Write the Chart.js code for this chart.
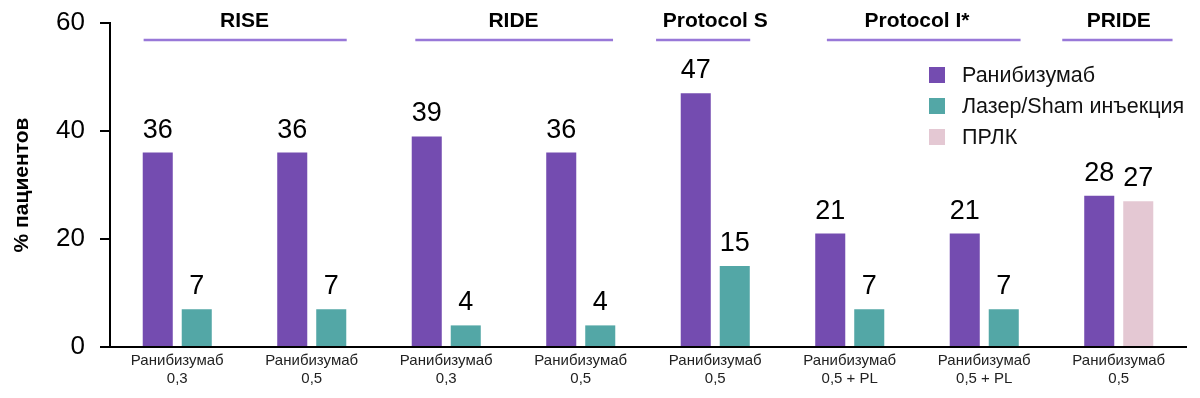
<!DOCTYPE html>
<html><head><meta charset="utf-8">
<script src="https://cdn.jsdelivr.net/npm/chart.js@4/dist/chart.umd.min.js"></script>
<style>html,body{margin:0;padding:0;background:#fff}</style>
</head><body>
<canvas id="c" width="1200" height="398"></canvas>
<script>
const categories = [['Ранибизумаб','0,3'],['Ранибизумаб','0,5'],['Ранибизумаб','0,3'],['Ранибизумаб','0,5'],['Ранибизумаб','0,5'],['Ранибизумаб','0,5 + PL'],['Ранибизумаб','0,5 + PL'],['Ранибизумаб','0,5']];
const ranibizumab = [36,36,39,36,47,21,21,28];
const laserSham = [7,7,4,4,15,7,7,null];
const prlk = [null,null,null,null,null,null,null,27];
const seriesNames = ['Ранибизумаб','Лазер/Sham инъекция','ПРЛК'];
const seriesColors = ['#744cb0','#53a7a6','#e4c8d3'];
const groupNames = ['RISE','RIDE','Protocol S','Protocol I*','PRIDE'];
const groupFirst = [0,2,4,5,7];
const groupLast = [1,3,4,6,7];
const groupLineFrom = [-0.25,1.77,3.56,4.83,6.58];
const groupLineTo = [1.26,3.24,4.26,6.27,7.40];
const yTickStep = 20;
const yMax = 60;

const FONT = '"Liberation Sans", Arial, sans-serif';

const overlay = {
  id: 'overlay',
  afterDatasetsDraw(chart) {
    const ctx = chart.ctx;
    const x = chart.scales.x;
    ctx.save();
    // value labels
    ctx.fillStyle = '#000';
    ctx.font = '27px ' + FONT;
    ctx.textAlign = 'center';
    ctx.textBaseline = 'alphabetic';
    chart.data.datasets.forEach((ds, di) => {
      const meta = chart.getDatasetMeta(di);
      meta.data.forEach((bar, i) => {
        const v = ds.data[i];
        if (v === null || v === undefined) return;
        ctx.fillText(String(v), bar.x, bar.y - 15);
      });
    });
    // group headers
    ctx.font = 'bold 21px ' + FONT;
    ctx.textBaseline = 'middle';
    groupNames.forEach((g, k) => {
      const cx = (x.getPixelForValue(groupFirst[k]) + x.getPixelForValue(groupLast[k])) / 2;
      ctx.fillStyle = '#000';
      ctx.fillText(g, cx, 21);
      ctx.strokeStyle = '#9878d8';
      ctx.lineWidth = 2.5;
      ctx.beginPath();
      ctx.moveTo(x.getPixelForValue(groupLineFrom[k]), 40);
      ctx.lineTo(x.getPixelForValue(groupLineTo[k]), 40);
      ctx.stroke();
    });
    // legend
    ctx.font = '21.5px ' + FONT;
    ctx.textAlign = 'left';
    chart.data.datasets.forEach((ds, di) => {
      const cy = 75 + di * 31;
      ctx.fillStyle = ds.backgroundColor;
      ctx.fillRect(929, cy - 8, 16, 16);
      ctx.fillStyle = '#111';
      ctx.fillText(ds.label, 962, cy + 1);
    });
    ctx.restore();
  }
};

new Chart(document.getElementById('c'), {
  type: 'bar',
  data: {
    labels: categories,
    datasets: [
      { label: seriesNames[0], data: ranibizumab, backgroundColor: seriesColors[0] },
      { label: seriesNames[1], data: laserSham, backgroundColor: seriesColors[1] },
      { label: seriesNames[2], data: prlk, backgroundColor: seriesColors[2] }
    ]
  },
  options: {
    responsive: false,
    animation: false,
    devicePixelRatio: 1,
    skipNull: true,
    datasets: { bar: { skipNull: true, categoryPercentage: 0.58, barPercentage: 0.77 } },
    layout: { padding: { top: 23, right: 14, left: 0, bottom: 0 } },
    plugins: { legend: { display: false }, tooltip: { enabled: false } },
    scales: {
      x: {
        grid: { display: false, drawTicks: false },
        border: { color: '#000', width: 2 },
        ticks: { color: '#222', font: { family: FONT, size: 15 }, padding: 5, maxRotation: 0, autoSkip: false },
        afterFit: s => { s.height = 51; s.paddingLeft = 0; s.paddingRight = 0; }
      },
      y: {
        min: 0, max: yMax,
        ticks: { stepSize: yTickStep, color: '#000', font: { family: FONT, size: 26 }, padding: 15 },
        grid: { drawOnChartArea: false, drawTicks: true, tickLength: 10, color: '#000', lineWidth: 2 },
        border: { color: '#000', width: 2 },
        title: { display: true, text: '% пациентов', color: '#000', font: { family: FONT, size: 21, weight: 'bold' }, padding: { top: 10, bottom: 0 } },
        afterFit: s => { s.width = 110; s.paddingTop = 0; s.paddingBottom = 0; }
      }
    }
  },
  plugins: [overlay]
});
</script>
</body></html>
